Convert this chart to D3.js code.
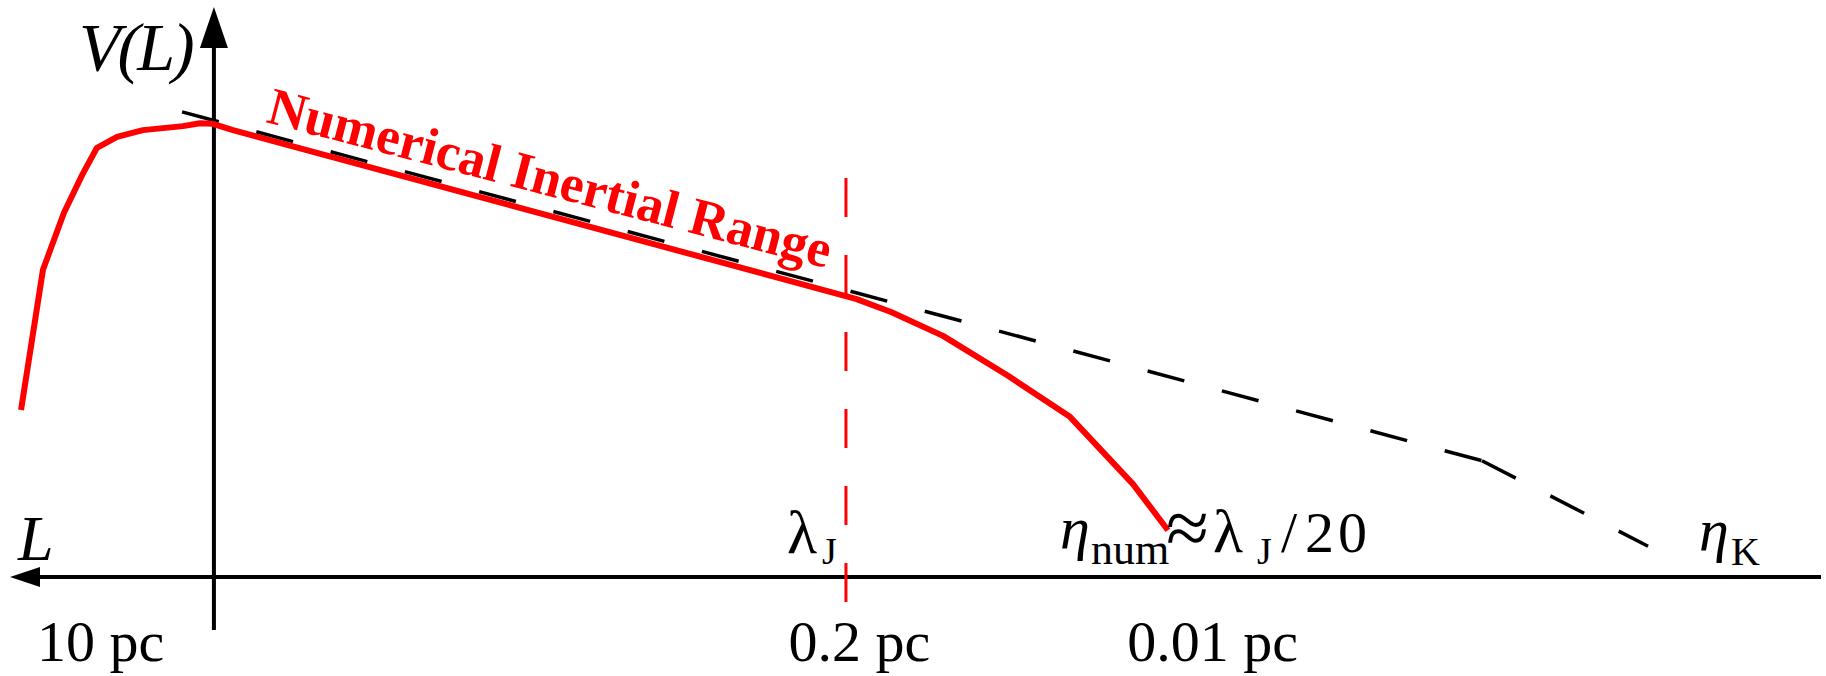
<!DOCTYPE html>
<html>
<head>
<meta charset="utf-8">
<script src="https://cdn.jsdelivr.net/npm/d3@7"></script>
<style>
  html, body { margin: 0; padding: 0; background: #fff; }
  svg { display: block; }
  text { font-family: "Liberation Serif", "Times New Roman", serif; }
</style>
</head>
<body>
<svg id="chart" width="1826" height="676"></svg>
<script>
// ---- Data (schematic units: x 0..100 along L axis, y 0..100 for V(L)) ----
const simX = [0.61, 1.82, 2.98, 3.98, 4.80, 5.91, 7.34, 9.55, 10.49, 11.21, 12.31, 46.71, 48.65, 51.52, 55.11, 58.53, 62.01, 63.94];
const simY = [29.3, 53.9, 63.9, 70.5, 75.3, 77.2, 78.4, 79.1, 79.6, 79.5, 78.4, 48.8, 46.5, 42.3, 35.3, 28.1, 16.3, 8.2];
const kolX = [9.50, 81.28, 90.45];
const kolY = [81.6, 20.4, 5.4];
const jeansX = 46.16;
const jeansY = [70.0, -4.4];
const tickLabels = ["10 pc", "0.2 pc", "0.01 pc"];
const tickPos = [5.0, 46.9, 66.4];
const axisOriginX = 11.26;

const svg = d3.select("#chart");
const x = d3.scaleLinear().domain([0, 100]).range([10, 1821]);
const y = d3.scaleLinear().domain([0, 100]).range([577, 7]);

const line = d3.line().x(d => x(d[0])).y(d => y(d[1]));

// Axes
svg.append("line")
  .attr("x1", x(0) + 20).attr("x2", x(100)).attr("y1", y(0)).attr("y2", y(0))
  .attr("stroke", "#000").attr("stroke-width", 4);
svg.append("path")
  .attr("d", `M${x(0)},${y(0)} L${x(0) + 30},${y(0) - 10} L${x(0) + 30},${y(0) + 10} Z`)
  .attr("fill", "#000");
svg.append("line")
  .attr("x1", x(axisOriginX)).attr("x2", x(axisOriginX)).attr("y1", y(-9.3)).attr("y2", y(93))
  .attr("stroke", "#000").attr("stroke-width", 4);
svg.append("path")
  .attr("d", `M${x(axisOriginX)},${y(100)} L${x(axisOriginX) - 14},${y(100) + 41} L${x(axisOriginX) + 14},${y(100) + 41} Z`)
  .attr("fill", "#000");

// Jeans length dashed marker
svg.append("line")
  .attr("x1", x(jeansX)).attr("x2", x(jeansX)).attr("y1", y(jeansY[0])).attr("y2", y(jeansY[1]))
  .attr("stroke", "#ff0000").attr("stroke-width", 3).attr("stroke-dasharray", "39 38");

// Kolmogorov reference (dashed black) — dash pattern restarts on each segment
const kolPts = d3.zip(kolX, kolY);
svg.selectAll("path.kol")
  .data(d3.pairs(kolPts))
  .join("path")
  .attr("class", "kol")
  .attr("d", line)
  .attr("fill", "none").attr("stroke", "#000").attr("stroke-width", 3.5)
  .attr("stroke-dasharray", "38 38.9");

// Simulation curve (red)
svg.append("path")
  .datum(d3.zip(simX, simY))
  .attr("d", line)
  .attr("fill", "none").attr("stroke", "#ff0000").attr("stroke-width", 6)
  .attr("stroke-linejoin", "round");

// Tick labels
svg.selectAll("text.tick")
  .data(tickLabels)
  .join("text")
  .attr("class", "tick")
  .attr("x", (d, i) => x(tickPos[i]))
  .attr("y", 661)
  .attr("text-anchor", "middle")
  .attr("font-size", 58)
  .attr("fill", "#000")
  .text(d => d);

// Axis labels
svg.append("text").attr("x", 79).attr("y", 70)
  .attr("font-size", 68).attr("font-style", "italic").attr("letter-spacing", -3)
  .text("V(L)");
svg.append("text").attr("x", 18).attr("y", 560)
  .attr("font-size", 64).attr("font-style", "italic")
  .text("L");

// lambda_J
const lj = svg.append("text").attr("x", 787).attr("y", 553).attr("font-size", 62);
lj.append("tspan").text("λ");
lj.append("tspan").attr("x", 822).attr("y", 564).attr("font-size", 38).text("J");

// eta_num ≈ lambda_J / 20
const en = svg.append("text").attr("y", 548).attr("font-size", 60);
en.append("tspan").attr("x", 1060).attr("font-style", "italic").text("η");
en.append("tspan").attr("x", 1091).attr("y", 564).attr("font-size", 44).text("num");
en.append("tspan").attr("x", 1166).attr("y", 554).attr("font-size", 78).text("≈");
en.append("tspan").attr("x", 1213).attr("y", 552).attr("font-size", 62).text("λ");
en.append("tspan").attr("x", 1257).attr("y", 564).attr("font-size", 38).text("J");
en.append("tspan").attr("x", 1281).attr("y", 552).attr("font-size", 58).text("/");
en.append("tspan").attr("x", 1305).attr("y", 552).attr("font-size", 58).text("2");
en.append("tspan").attr("x", 1338).attr("y", 552).attr("font-size", 58).text("0");

// eta_K
const ek = svg.append("text").attr("y", 550).attr("font-size", 60);
ek.append("tspan").attr("x", 1699).attr("font-style", "italic").text("η");
ek.append("tspan").attr("x", 1731).attr("y", 565).attr("font-size", 40).text("K");

// Numerical Inertial Range
svg.append("text")
  .attr("transform", "translate(265,122) rotate(14.6)")
  .attr("font-size", 53).attr("font-weight", "bold").attr("fill", "#ff0000")
  .text("Numerical Inertial Range");
</script>
</body>
</html>
